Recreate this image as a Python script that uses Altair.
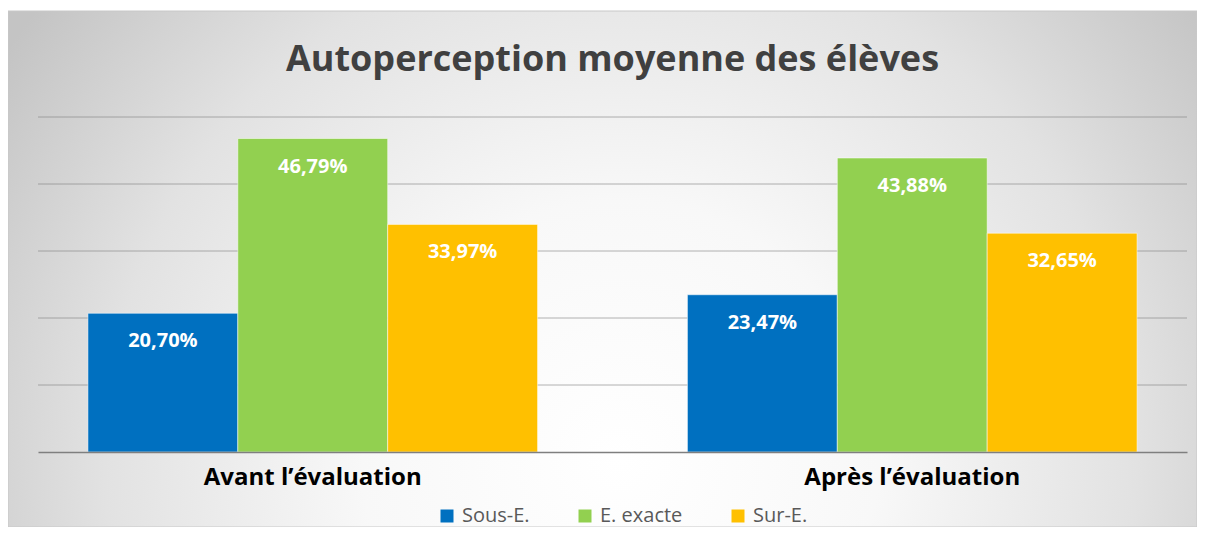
import altair as alt
import pandas as pd

# ---- data ----
groups = ["Avant l’évaluation", "Après l’évaluation"]
series = ["Sous-E.", "E. exacte", "Sur-E."]
avant = [20.70, 46.79, 33.97]
apres = [23.47, 43.88, 32.65]
colors = ["#0070C0", "#92D050", "#FFC000"]
grid_values = [10, 20, 30, 40, 50]
title_text = "Autoperception moyenne des élèves"

rows = []
for g, vals in zip(groups, [avant, apres]):
    for s, v in zip(series, vals):
        rows.append({
            "groupe": g,
            "serie": s,
            "valeur": v,
            "label": f"{v:.2f}".replace(".", ",") + "%",
        })
df = pd.DataFrame(rows)
grid_df = pd.DataFrame({"valeur": grid_values})

W, H = 1149, 335
PAD = {"left": 30, "top": 109, "right": 10, "bottom": 75}

gradient = {
    "gradient": "radial",
    "x1": 0.515, "y1": 0.66, "r1": 0,
    "x2": 0.515, "y2": 0.66, "r2": 0.62,
    "stops": [
        {"offset": 0, "color": "#ffffff"},
        {"offset": 0.35, "color": "#f8f8f8"},
        {"offset": 0.7, "color": "#e2e2e2"},
        {"offset": 1, "color": "#c4c4c4"},
    ],
}

y_scale = alt.Scale(domain=[0, 50], nice=False, zero=True)

background = alt.Chart(alt.Data(values=[{}])).mark_rect(
    color=gradient, stroke="#c8c8c8", strokeWidth=1
).encode(
    x=alt.value(-30), x2=alt.value(1159),
    y=alt.value(-106), y2=alt.value(410),
)

gridlines = alt.Chart(grid_df).mark_rule(
    color="#808080", opacity=0.6, strokeWidth=1
).encode(
    y=alt.Y("valeur:Q", scale=y_scale, axis=None),
    x=alt.value(0), x2=alt.value(W),
)

x_enc = alt.X(
    "groupe:N", sort=groups, title=None,
    scale=alt.Scale(paddingInner=0.25, paddingOuter=0.0833),
    axis=alt.Axis(
        labelAngle=0, labelFont="Open Sans", labelFontWeight="bold",
        labelFontSize=24, labelColor="#000000", labelPadding=13,
        labelLimit=0, ticks=False, domainColor="#7f7f7f", domainWidth=1.5,
        zindex=1,
    ),
)
xo_enc = alt.XOffset("serie:N", sort=series,
                     scale=alt.Scale(paddingInner=0, paddingOuter=0))
y_enc = alt.Y("valeur:Q", title=None, scale=y_scale, axis=None)

bars = alt.Chart(df).mark_bar(
    stroke="#ffffff", strokeOpacity=0.5, strokeWidth=1
).encode(
    x=x_enc, xOffset=xo_enc, y=y_enc,
    color=alt.Color(
        "serie:N", sort=series,
        scale=alt.Scale(domain=series, range=colors),
        legend=alt.Legend(
            orient="none", legendX=399, legendY=389, direction="horizontal",
            title=None, symbolType="square", symbolSize=169,
            symbolStrokeWidth=0, labelFont="Open Sans", labelFontSize=20,
            labelColor="#595959", labelOffset=5, columnPadding=45, padding=0,
            zindex=1,
        ),
    ),
)

labels = alt.Chart(df).mark_text(
    dy=28, baseline="middle", align="center", color="#ffffff",
    font="Open Sans", fontWeight="bold", fontSize=20,
).encode(
    x=alt.X("groupe:N", sort=groups),
    xOffset=alt.XOffset("serie:N", sort=series),
    y=alt.Y("valeur:Q"),
    text="label:N",
)

chart = alt.layer(background, gridlines, bars, labels).properties(
    width=W, height=H,
    padding=PAD,
    autosize=alt.AutoSizeParams(type="none"),
    background="#ffffff",
    title=alt.TitleParams(
        title_text, font="Open Sans", fontSize=36, fontWeight="bold",
        color="#404040", anchor="middle", baseline="alphabetic", offset=-96,
        zindex=1,
    ),
).configure_view(stroke=None)

chart.save("out.html", embed_options={"renderer": "svg", "actions": False})
